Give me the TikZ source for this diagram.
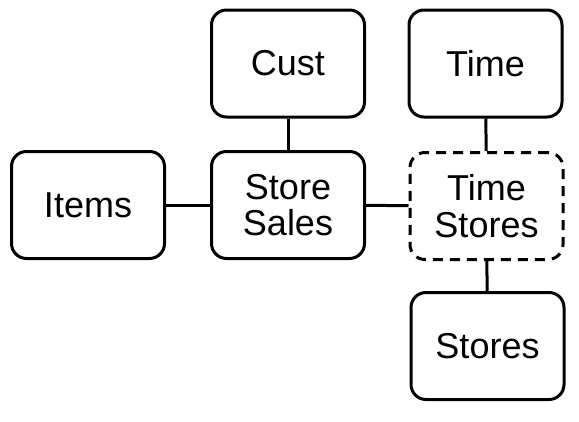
\documentclass[tikz,border=0pt]{standalone}
\usepackage{fontspec}
\setmainfont{Liberation Sans}
\tikzset{
  tbl/.style={draw, line width=3pt, rounded corners=15pt, minimum width=153pt,
    minimum height=107pt, inner sep=0pt, align=center,
    font=\fontsize{36}{36.5}\selectfont},
  tbldash/.style={tbl, dash pattern=on 10pt off 7pt},
  link/.style={line width=3pt}
}
\begin{document}
\begin{tikzpicture}[x=1pt, y=-1pt]
            \useasboundingbox (0,0) rectangle (579,421);
            % Fact table in the middle
            \node[tbl] (sales) at (288,205) {Store\\Sales};
            % Dimension tables round it
            \node[tbl] (items) at (88,205) {Items};
            \node[tbl] (cust) at (288,63.5) {Cust};
            % Bridge table, drawn dashed
            \node[tbldash] (tstores) at (486.5,206) {Time\\Stores};
            \node[tbl] (time) at (485.5,63.5) {Time};
            \node[tbl] (stores) at (487.5,346) {Stores};
            % Links
            \draw[link] (items) -- (sales);
            \draw[link] (cust) -- (sales);
            \draw[link] (sales) -- (tstores);
            \draw[link] (time) -- (tstores);
            \draw[link] (tstores) -- (stores);
        \end{tikzpicture}
\end{document}
